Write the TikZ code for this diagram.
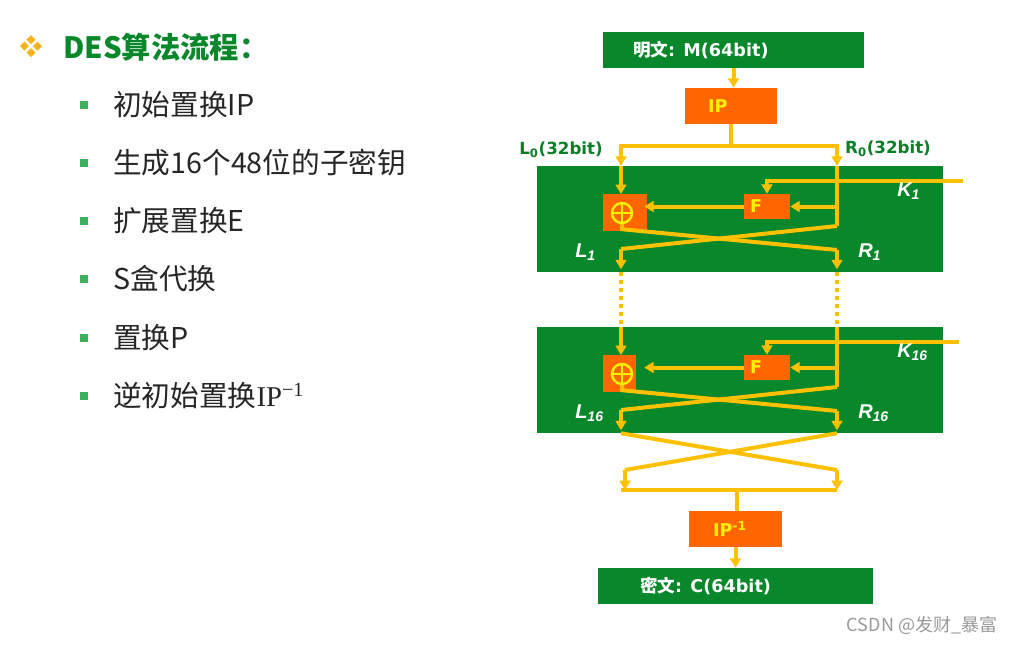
\documentclass[tikz,border=0pt]{standalone}
\usepackage{fontspec}
\setmainfont{DejaVu Sans}
\newfontfamily\cjk{Noto Sans CJK SC}
\newfontfamily\itlab{Liberation Sans}
\newfontfamily\serifip{Liberation Serif}
\usetikzlibrary{arrows.meta,positioning,calc}
\definecolor{DesGreen}{HTML}{08872B}
\definecolor{LabelGreen}{HTML}{0A7F26}
\definecolor{DesOrange}{HTML}{FF6600}
\definecolor{Wire}{HTML}{FFC000}
\definecolor{TextYellow}{HTML}{FFF200}
\definecolor{BulletGreen}{HTML}{3CB05A}
\definecolor{Diamond}{HTML}{F4B41A}
\definecolor{ItemGray}{HTML}{262626}

\begin{document}
\begin{tikzpicture}[x=0.75pt,y=-0.75pt,
greenbox/.style={fill=DesGreen,inner sep=0pt},
orangebox/.style={fill=DesOrange,inner sep=0pt},
boxtext/.style={inner sep=0pt,font=\fontsize{13.2}{15}\selectfont\bfseries},
wire/.style={draw=Wire,line width=3pt},
arrow/.style={wire,-{Triangle[width=8pt,length=7pt]}},
dotwire/.style={wire,dash pattern=on 3pt off 3pt},
xorsym/.style={circle,draw=TextYellow,line width=1.8pt,minimum size=15pt,inner sep=0pt},
roundlabel/.style={text=white,inner sep=0pt,font=\itlab\fontsize{15}{17}\selectfont\bfseries\itshape},
sidelabel/.style={text=LabelGreen,inner sep=0pt,font=\fontsize{12.5}{14}\selectfont\bfseries},
item/.style={anchor=west,inner sep=0pt,text=ItemGray,font=\cjk\fontsize{21.5}{25}\selectfont},
sqbullet/.style={fill=BulletGreen,minimum size=6pt,inner sep=0pt}
]
\useasboundingbox (0,0) rectangle (1015,644);

% left column
\foreach \dx/\dy in {0/-6.5,6.5/0,0/6.5,-6.5/0}
  \fill[Diamond] ({31+\dx},{46+\dy}) +(0,-4.5) -- +(4.5,0) -- +(0,4.5) -- +(-4.5,0) -- cycle;
\node[anchor=west,inner sep=0pt,text=DesGreen,font=\cjk\fontsize{22}{26}\selectfont\bfseries] (title) at (63,47) {DES算法流程：};
\foreach \y/\t [count=\i] in {105/初始置换IP,163/生成16个48位的子密钥,221/扩展置换E,279/S盒代换,338/置换P,396/{逆初始置换{\serifip IP\textsuperscript{−1}}}} {
  \node[sqbullet] (b\i) at (83.5,\y) {};
  \node[item] (t\i) at (113,\y) {\t};
}

% input
\node[greenbox,minimum width=195.75pt,minimum height=27pt] (plain) at (733.5,50) {};
\node[boxtext,text=white,right=22.5pt of plain.west] (plaintxt) {{\cjk 明文}: M(64bit)};
\node[orangebox,minimum width=69pt,minimum height=27pt] (ip) at (731,106) {};
\node[boxtext,text=TextYellow,right=17.25pt of ip.west] (iptxt) {IP};
\draw[arrow] (plain.south) -- (plain.south |- ip.north);

\coordinate (lsplit) at (621,146);
\coordinate (rsplit) at (837,146);
\node[sidelabel] (l0lab) at (561,150) {L\textsubscript{0}(32bit)};
\node[sidelabel] (r0lab) at (888,149) {R\textsubscript{0}(32bit)};

% two rounds
\foreach \n/\dy/\xw/\kx in {1/0/33pt/963,16/161/24.75pt/959} {
  \node[greenbox,minimum width=304.5pt,minimum height=79.5pt] (rnd\n) at (740,{219+\dy}) {};
  \node[orangebox,anchor=north west,minimum width=\xw,minimum height=27.5pt] (xor\n) at (603,{194+\dy}) {};
  \node[xorsym] (xc\n) at (622,{213+\dy}) {};
  \draw[TextYellow,line width=1.8pt] (xc\n.north) -- (xc\n.south) (xc\n.west) -- (xc\n.east);
  \node[orangebox,minimum width=34.5pt,minimum height=18.75pt] (f\n) at (767,{206.5+\dy}) {};
  \node[boxtext,text=TextYellow,right=4.5pt of f\n.west] (ftxt\n) {F};
  \coordinate (kin\n) at (\kx,{181+\dy});
  \coordinate (rbot\n) at (837,{226+\dy});
  \coordinate (l\n) at (621,{249+\dy});
  \coordinate (r\n) at (837,{250+\dy});
  \draw[arrow] (l\n |- rnd\n.north) -- (l\n |- xor\n.north);
  \draw[wire] (r\n |- rnd\n.north) -- (rbot\n);
  \draw[arrow] (f\n.east -| r\n) -- (f\n.east);
  \draw[arrow] (f\n.west) -- ($(f\n.west -| xc\n.east)+(11,0)$);
  \draw[arrow] (kin\n) -| (f\n.north);
  \draw[wire] (xc\n.south) -- ++(0,5) -- (r\n);
  \draw[wire] (rbot\n) -- (l\n);
  \draw[arrow] (l\n) -- ($(l\n |- rnd\n.south)+(0,-3)$);
  \draw[arrow] (r\n) -- ($(r\n |- rnd\n.south)+(0,-3)$);
  \node[roundlabel,anchor=west] (klab\n) at (897,{191+\dy}) {K\textsubscript{\n}};
  \node[roundlabel,anchor=west] (llab\n) at (575,{252+\dy}) {L\textsubscript{\n}};
  \node[roundlabel,anchor=west] (rlab\n) at (858,{252+\dy}) {R\textsubscript{\n}};
}

\draw[arrow] (ip.south) |- (lsplit) -- (lsplit |- rnd1.north);
\draw[arrow] (ip.south) |- (rsplit) -- (rsplit |- rnd1.north);
\draw[dotwire] (l1 |- rnd1.south) -- (l1 |- rnd16.north);
\draw[dotwire] (r1 |- rnd1.south) -- (r1 |- rnd16.north);

% output
\node[orangebox,minimum width=69.75pt,minimum height=27pt] (ipinv) at (735.5,529) {};
\node[boxtext,text=TextYellow,right=18pt of ipinv.west] (ipinvtxt) {IP\textsuperscript{-1}};
\node[greenbox,minimum width=206.25pt,minimum height=27pt] (cipher) at (735.5,586) {};
\node[boxtext,text=white,right=31.5pt of cipher.west] (ciphertxt) {{\cjk 密文}: C(64bit)};

\coordinate (lx) at (625,470);
\coordinate (rx) at (837,470);
\coordinate (join) at (737,490);
\draw[wire] (l16 |- rnd16.south) -- (rx);
\draw[wire] (r16 |- rnd16.south) -- (lx);
\draw[arrow] (lx) -- (lx |- join);
\draw[arrow] (rx) -- (rx |- join);
\draw[wire] (join -| l16) -- (join -| r16);
\draw[wire] (join) -- (join |- ipinv.north);
\draw[arrow] (ipinv.south) -- (cipher.north);

\node[inner sep=0pt,text=gray!80,font=\cjk\fontsize{13.5}{15}\selectfont] (mark) at (922,625) {CSDN @发财\_暴富};
\end{tikzpicture}
\end{document}
